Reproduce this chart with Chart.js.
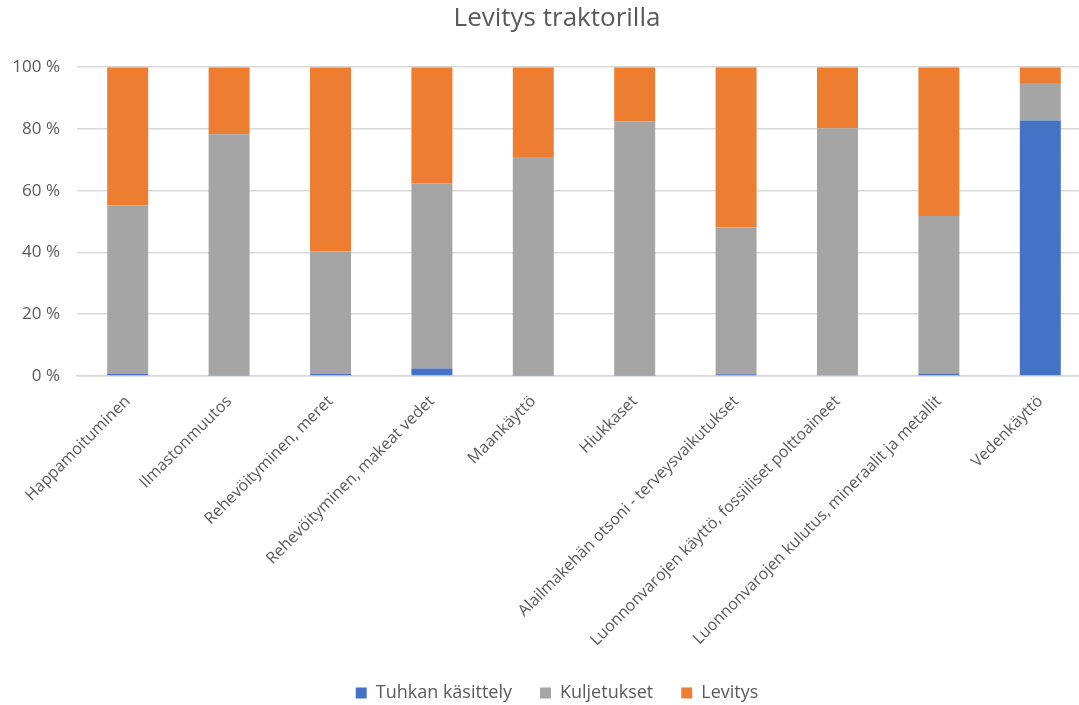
<!DOCTYPE html>
<html>
<head>
    <title>Levitys traktorilla</title>
    <script src="https://cdn.jsdelivr.net/npm/chart.js@4.4.5/dist/chart.umd.min.js"></script>
    <style>
        body { margin: 0; overflow: hidden; background: #fff; }
        #wrap { width: 1114px; height: 705px; }
    </style>
</head>
<body>
    <div id="wrap"><canvas id="chart" width="1114" height="705"></canvas></div>

    <script>
        // Data (percent shares)
        const categories = [
            'Happamoituminen',
            'Ilmastonmuutos',
            'Rehevöityminen, meret',
            'Rehevöityminen, makeat vedet',
            'Maankäyttö',
            'Hiukkaset',
            'Alailmakehän otsoni - terveysvaikutukset',
            'Luonnonvarojen käyttö, fossiiliset polttoaineet',
            'Luonnonvarojen kulutus, mineraalit ja metallit',
            'Vedenkäyttö'
        ];
        const tuhkanKasittely = [0.7, 0.2, 0.7, 2.4, 0.2, 0.2, 0.6, 0.3, 0.8, 82.7];
        const kuljetukset = [54.5, 78.1, 39.6, 60.0, 70.7, 82.2, 47.5, 79.9, 51.0, 12.2];
        const levitys = [44.8, 21.7, 59.7, 37.6, 29.1, 17.6, 51.9, 19.8, 48.2, 5.1];
        const yTicks = [0, 20, 40, 60, 80, 100];

        const textColor = '#595959';
        const gridColor = '#d9d9d9';
        const font = 'Open Sans';

        // center title and legend on the whole canvas, not just the padded area
        const centerBoxes = {
            id: 'centerBoxes',
            afterLayout(chart) {
                [chart.titleBlock, chart.legend].forEach(b => {
                    b.left = 0;
                    b.right = chart.width;
                    b.width = chart.width;
                });
            }
        };

        new Chart(document.getElementById('chart'), {
            type: 'bar',
            data: {
                labels: categories,
                datasets: [
                    { label: 'Tuhkan käsittely', data: tuhkanKasittely, backgroundColor: '#4472C4' },
                    { label: 'Kuljetukset', data: kuljetukset, backgroundColor: '#A5A5A5' },
                    { label: 'Levitys', data: levitys, backgroundColor: '#ED7D31' }
                ]
            },
            plugins: [centerBoxes],
            options: {
                responsive: false,
                animation: false,
                barPercentage: 0.404,
                categoryPercentage: 1,
                layout: { padding: { left: 0, right: 23, top: 0, bottom: -7 } },
                plugins: {
                    title: {
                        display: true,
                        text: 'Levitys traktorilla',
                        color: textColor,
                        font: { family: font, size: 26, weight: 'normal' },
                        padding: { top: 3, bottom: 33 }
                    },
                    legend: {
                        position: 'bottom',
                        labels: {
                            color: textColor,
                            font: { family: font, size: 18 },
                            boxWidth: 11,
                            boxHeight: 11,
                            padding: 28
                        }
                    },
                    tooltip: { enabled: false }
                },
                scales: {
                    x: {
                        stacked: true,
                        grid: { display: false },
                        border: { display: true, color: gridColor, width: 1.5 },
                        ticks: {
                            color: textColor,
                            font: { family: font, size: 16 },
                            minRotation: 45,
                            maxRotation: 45,
                            autoSkip: false,
                            padding: 8
                        },
                        afterFit: s => { s.height = 280; }
                    },
                    y: {
                        stacked: true,
                        min: 0,
                        max: 100,
                        afterBuildTicks: s => { s.ticks = yTicks.map(v => ({ value: v })); },
                        grid: { color: gridColor, lineWidth: 1.5, drawTicks: false },
                        border: { display: false },
                        ticks: {
                            color: textColor,
                            font: { family: font, size: 17 },
                            padding: 17,
                            callback: v => v + ' %'
                        },
                        afterFit: s => { s.width = 77; }
                    }
                }
            }
        });
    </script>
</body>
</html>
